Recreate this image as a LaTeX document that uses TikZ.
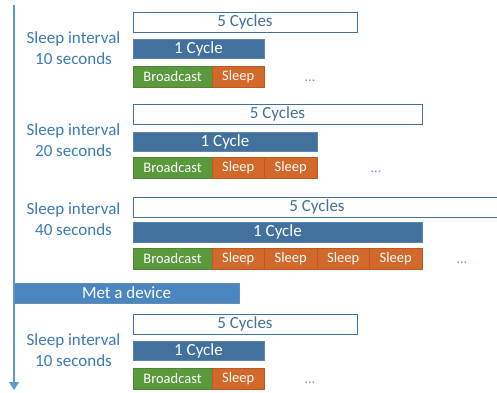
\documentclass[tikz,border=0pt]{standalone}
\usepackage{fontspec}
\setmainfont{Carlito}
\usetikzlibrary{arrows.meta}
\definecolor{darkblue}{HTML}{41719C}
\definecolor{metblue}{HTML}{4A86C0}
\definecolor{labblue}{HTML}{3B7AB8}
\definecolor{axisblue}{HTML}{5B9BD5}
\definecolor{bgreen}{HTML}{5B9A3C}
\definecolor{bgreenb}{HTML}{4E8533}
\definecolor{sorange}{HTML}{D2692A}
\definecolor{sorangeb}{HTML}{B85A22}
\tikzset{
  box/.style={anchor=north west, inner sep=0pt, outer sep=0pt, line width=0.8pt},
  cycfive/.style={box, draw=darkblue, fill=white, text=darkblue, font=\fontsize{17}{20}\selectfont, minimum height=20pt},
  cycone/.style={box, draw=darkblue!85!white, fill=darkblue, text=white, font=\fontsize{17}{20}\selectfont, minimum height=19.5pt},
  bcast/.style={box, draw=bgreenb, fill=bgreen, text=white, font=\fontsize{14.5}{17}\selectfont, minimum height=21pt, minimum width=79pt},
  slp/.style={box, draw=sorangeb, fill=sorange, text=white, font=\fontsize{14.5}{17}\selectfont, minimum height=21pt, minimum width=52.5pt},
  metbox/.style={box, draw=darkblue!80!white, fill=metblue, text=white, font=\fontsize{17}{20}\selectfont, minimum height=20pt},
  lab/.style={align=center, text=labblue, font=\fontsize{17}{21}\selectfont, inner sep=0pt},
  dotlab/.style={text=axisblue, font=\fontsize{14}{16}\selectfont, inner sep=0pt},
}
\begin{document}
\begin{tikzpicture}[x=1pt,y=-1pt]
\useasboundingbox (0,0) rectangle (497,392);
\clip (0,0) rectangle (497,392);
% axis
\coordinate (axtop) at (14,5);
\coordinate (axbot) at (14,390);
\draw[axisblue, line width=1.2pt, -{Triangle[width=10pt,length=8pt]}] (axtop) -- (axbot);

% block 1
\node[lab] (l1) at (73.5,48.5) {Sleep interval\\10 seconds};
\node[cycfive, minimum width=224pt] (f1) at (133,12) {5 Cycles};
\node[cycone, minimum width=131pt] (c1) at (133,39) {1 Cycle};
\node[bcast] (b1) at (133,66) {Broadcast};
\node[slp] (s11) at (b1.north east) {Sleep};
\node[dotlab] (d1) at (310,80.5) {...};

% block 2
\node[lab] (l2) at (73.5,140) {Sleep interval\\20 seconds};
\node[cycfive, minimum width=289pt] (f2) at (133,104) {5 Cycles};
\node[cycone, minimum width=184pt] (c2) at (133,132) {1 Cycle};
\node[bcast] (b2) at (133,157) {Broadcast};
\node[slp] (s21) at (b2.north east) {Sleep};
\node[slp] (s22) at (s21.north east) {Sleep};
\node[dotlab] (d2) at (376,171.5) {...};

% block 3
\node[lab] (l3) at (73.5,219.5) {Sleep interval\\40 seconds};
\node[cycfive, minimum width=368pt] (f3) at (133,197) {5 Cycles};
\node[cycone, minimum width=289pt] (c3) at (133,222.5) {1 Cycle};
\node[bcast] (b3) at (133,248.5) {Broadcast};
\node[slp] (s31) at (b3.north east) {Sleep};
\node[slp] (s32) at (s31.north east) {Sleep};
\node[slp] (s33) at (s32.north east) {Sleep};
\node[slp] (s34) at (s33.north east) {Sleep};
\node[dotlab] (d3) at (462,262.5) {...};

% met a device
\node[metbox, minimum width=225pt] (met) at (14,283) {Met a device};

% block 4
\node[lab] (l4) at (73.5,350.5) {Sleep interval\\10 seconds};
\node[cycfive, minimum width=224pt] (f4) at (133,314) {5 Cycles};
\node[cycone, minimum width=131pt] (c4) at (133,341) {1 Cycle};
\node[bcast] (b4) at (133,368) {Broadcast};
\node[slp] (s41) at (b4.north east) {Sleep};
\node[dotlab] (d4) at (310,382.5) {...};
\end{tikzpicture}
\end{document}
